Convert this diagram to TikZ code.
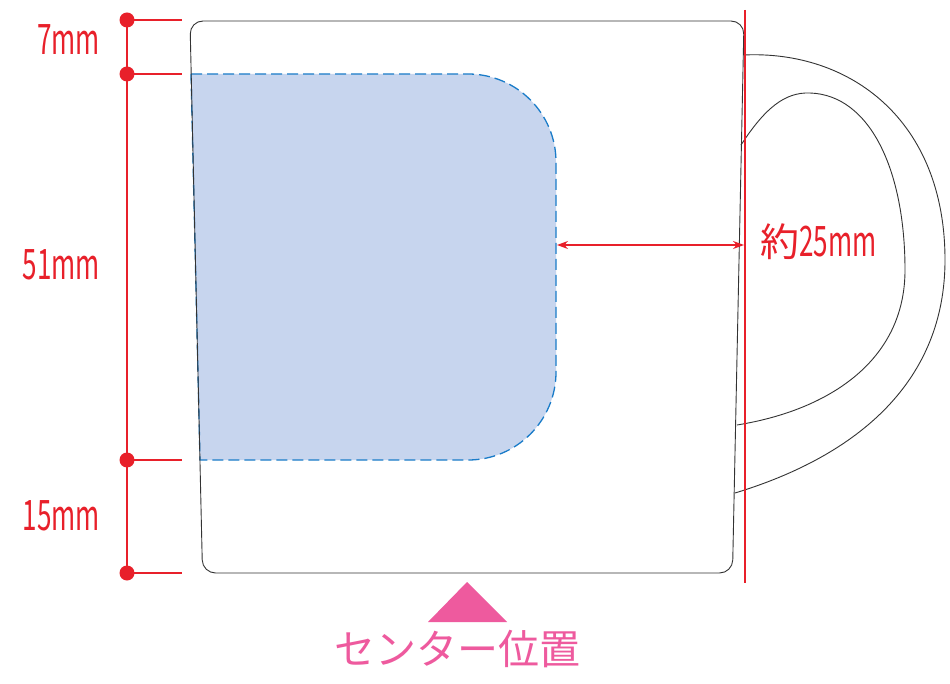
\documentclass[tikz,border=0pt]{standalone}
\usepackage{fontspec}
\newfontfamily\jpfont{Noto Sans CJK JP}
\usetikzlibrary{arrows.meta}
\definecolor{dimred}{HTML}{E8202A}
\definecolor{mugline}{HTML}{333333}
\definecolor{areafill}{HTML}{C7D5EE}
\definecolor{areadash}{HTML}{1A7CC9}
\definecolor{centerpink}{HTML}{EE5A9E}
\tikzset{
  mug/.style={draw=mugline, line width=0.9pt},
  dimline/.style={draw=dimred, line width=1.4pt},
  dimdot/.style={fill=dimred, draw=none},
  dimlabel/.style={text=dimred, font=\jpfont\fontsize{42}{45}\selectfont, inner sep=0pt},
  printarea/.style={fill=areafill, draw=areadash, line width=1.3pt, dash pattern=on 11pt off 5pt},
}
\newcommand{\cond}[1]{\scalebox{0.62}[1]{#1}}
\begin{document}
\begin{tikzpicture}[x=1pt,y=-1pt]
\useasboundingbox[fill=white] (0,0) rectangle (950,684);
% print area
\path[printarea] (191,74) -- (468,74) .. controls (516.6,74) and (556,113.4) .. (556,162)
  -- (556,372) .. controls (556,420.6) and (516.6,460) .. (468,460) -- (200,460) -- cycle;
% mug body
\draw[mug, rounded corners=13] (202.5,573) -- (190,21) -- (744,21) -- (732.5,573) -- cycle;
% handle
\draw[mug] (743.5,55) .. controls (850,50) and (945,120) .. (945,260)
  .. controls (945,380) and (860,455) .. (735,493);
\draw[mug] (741,145) .. controls (765,108) and (785,92) .. (810,93)
  .. controls (870,95) and (905,170) .. (905,270)
  .. controls (905,360) and (830,410) .. (737,425);
% right reference line
\coordinate (rtop) at (745,10);
\coordinate (rbot) at (745,583);
\draw[draw=dimred, line width=1.1pt] (rtop) -- (rbot);
% width dimension
\coordinate (wa) at (557,245);
\coordinate (wb) at (744,245);
\draw[draw=dimred, line width=1.1pt, {Stealth[length=11pt,width=8pt]}-{Stealth[length=11pt,width=8pt]}] (wa) -- (wb);
\node[dimlabel, anchor=base west] (wlab) at (760,257) {{\fontsize{39}{42}\selectfont 約}\cond{25mm}};
% left dimension
\coordinate (d1) at (127,20);
\coordinate (d2) at (127,74);
\coordinate (d3) at (127,460);
\coordinate (d4) at (127,573);
\coordinate (e1) at (182,20);
\coordinate (e2) at (182,74);
\coordinate (e3) at (182,460);
\coordinate (e4) at (182,573);
\draw[dimline] (d1) -- (d4);
\foreach \i in {1,2,3,4} {
  \draw[dimline] (d\i) -- (e\i);
  \fill[dimdot] (d\i) circle[radius=7.5];
}
\node[dimlabel, anchor=base east] (l1) at (100,55) {\cond{7mm}};
\node[dimlabel, anchor=base east] (l2) at (100,280) {\cond{51mm}};
\node[dimlabel, anchor=base east] (l3) at (100,530) {\cond{15mm}};
% center mark
\coordinate (tapex) at (467,582);
\coordinate (tl) at (428,622);
\coordinate (tr) at (507,622);
\fill[centerpink] (tapex) -- (tr) -- (tl) -- cycle;
\node[text=centerpink, font=\jpfont\fontsize{41}{44}\selectfont, inner sep=0pt] (ctext) at (457,649) {センター位置};
\end{tikzpicture}
\end{document}
